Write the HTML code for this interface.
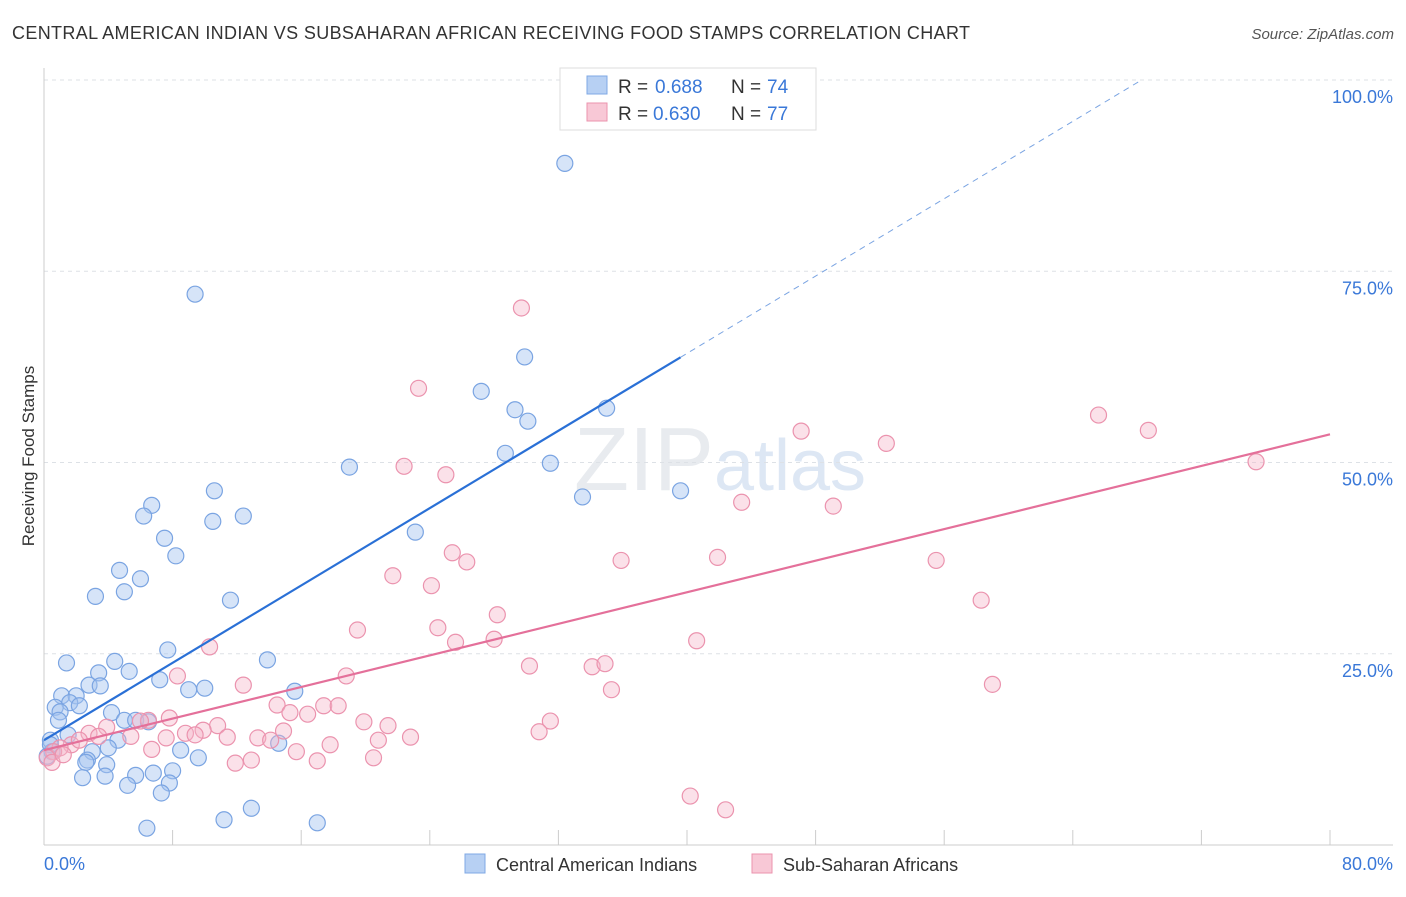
<!DOCTYPE html>
<html><head><meta charset="utf-8">
<style>
body{margin:0;background:#fff;font-family:"Liberation Sans",sans-serif;}
svg text{font-family:"Liberation Sans",sans-serif;}
</style></head>
<body>
<svg id="chart" width="1406" height="892" xmlns="http://www.w3.org/2000/svg">
<text x="12" y="39" font-size="18" fill="#333" textLength="958" lengthAdjust="spacing">CENTRAL AMERICAN INDIAN VS SUBSAHARAN AFRICAN RECEIVING FOOD STAMPS CORRELATION CHART</text>
<text x="1394" y="39" font-size="15" fill="#555" text-anchor="end" font-style="italic">Source: ZipAtlas.com</text>
<text transform="translate(34,456) rotate(-90)" font-size="17" fill="#333" text-anchor="middle">Receiving Food Stamps</text>
<text x="720" y="490" font-size="90" fill="#e8ebef" text-anchor="middle" font-family="Liberation Serif">ZIP<tspan fill="#dde7f4" font-family="Liberation Sans" font-size="72">atlas</tspan></text>
<g id="grid"></g><g id="axes"></g><g id="pts"></g><g id="lines"></g>
<g>
<rect x="560" y="68" width="256" height="62" fill="#fff" stroke="#ddd"/>
<rect x="587" y="76" width="20" height="18" fill="#b7d0f3" stroke="#7fa8e4"/>
<text x="618" y="93" font-size="19" fill="#333">R = </text><text x="655" y="93" font-size="19" fill="#3a78d8">0.688</text>
<text x="731" y="93" font-size="19" fill="#333">N = </text><text x="767" y="93" font-size="19" fill="#3a78d8">74</text>
<rect x="587" y="103" width="20" height="18" fill="#f8c8d6" stroke="#eb93ae"/>
<text x="618" y="120" font-size="19" fill="#333">R = </text><text x="653" y="120" font-size="19" fill="#3a78d8">0.630</text>
<text x="731" y="120" font-size="19" fill="#333">N = </text><text x="767" y="120" font-size="19" fill="#3a78d8">77</text>
</g>
<g>
<rect x="465" y="854" width="20" height="19" fill="#b7d0f3" stroke="#7fa8e4"/>
<text x="496" y="871" font-size="18" fill="#333">Central American Indians</text>
<rect x="752" y="854" width="20" height="19" fill="#f8c8d6" stroke="#eb93ae"/>
<text x="783" y="871" font-size="18" fill="#333">Sub-Saharan Africans</text>
</g>
</svg>
<script>
const xTicks=[0,8,16,24,32,40,48,56,64,72,80];
const yTicks=[25,50,75,100];
const yTickLabels=["25.0%","50.0%","75.0%","100.0%"];
const blueX=[32.4,9.4,29.9,27.2,29.3,30.1,35.0,28.7,19.0,31.5,33.5,39.6,23.1,10.6,6.7,6.2,10.5,12.4,7.5,8.2,4.7,6.0,5.0,3.2,11.6,7.7,13.9,4.4,1.4,3.4,5.3,2.8,3.5,7.2,9.0,10.0,15.6,1.1,2.0,1.6,2.2,0.7,1.0,0.9,4.2,5.0,5.7,6.5,1.5,4.6,4.0,8.5,3.0,0.4,0.5,2.7,2.6,9.6,3.9,5.7,6.8,8.0,3.8,2.4,5.2,7.8,7.3,12.9,11.2,17.0,6.4,14.6,0.4,0.2];
const blueY=[89.1,72.0,63.8,59.3,56.9,55.4,57.1,51.2,49.4,49.9,45.5,46.3,40.9,46.3,44.4,43.0,42.3,43.0,40.1,37.8,35.9,34.8,33.1,32.5,32.0,25.5,24.2,24.0,23.8,22.5,22.7,20.9,20.8,21.6,20.3,20.5,20.1,19.5,19.5,18.6,18.2,18.0,17.4,16.3,17.3,16.3,16.3,16.1,14.4,13.7,12.7,12.4,12.2,13.7,12.2,11.1,10.8,11.4,10.5,9.1,9.4,9.7,9.0,8.8,7.8,8.1,6.8,4.8,3.3,2.9,2.2,13.3,13.1,11.6];
const pinkX=[29.7,23.3,65.6,47.1,68.7,52.4,75.4,22.4,25.0,43.4,49.1,25.4,41.9,35.9,26.3,55.5,21.7,24.1,58.3,28.2,19.5,24.5,25.6,28.0,40.6,10.3,30.2,34.1,34.9,59.0,35.3,18.8,8.3,12.4,14.5,15.3,16.4,17.4,18.3,7.8,6.5,6.0,19.9,21.4,31.5,30.8,10.8,9.9,8.8,9.4,14.9,3.9,2.8,3.4,5.4,11.4,7.6,22.8,20.8,13.3,14.1,17.8,6.7,1.7,15.7,12.9,11.9,17.0,20.5,1.0,0.6,0.2,0.5,1.2,40.2,42.4,2.2];
const pinkY=[70.2,59.7,56.2,54.1,54.2,52.5,50.1,49.5,48.4,44.8,44.3,38.2,37.6,37.2,37.0,37.2,35.2,33.9,32.0,30.1,28.1,28.4,26.5,26.9,26.7,25.9,23.4,23.3,23.7,21.0,20.3,22.1,22.1,20.9,18.3,17.3,17.1,18.2,18.2,16.6,16.3,16.2,16.1,15.6,16.2,14.8,15.6,15.0,14.6,14.4,14.9,15.4,14.6,14.2,14.2,14.1,14.0,14.1,13.7,14.0,13.7,13.1,12.5,13.1,12.2,11.1,10.7,11.0,11.4,12.7,12.2,11.4,10.8,11.8,6.4,4.6,13.7];
const blueTrend=[13.7,1.264];
const pinkTrend=[12.4,0.516];
const X=v=>44+v/80*1286, Y=v=>845-v/100*765;
const NS="http://www.w3.org/2000/svg";
function mk(parent,tag,attrs){const e=document.createElementNS(NS,tag);for(const k in attrs)e.setAttribute(k,attrs[k]);document.getElementById(parent).appendChild(e);return e;}
yTicks.forEach((t,i)=>{
 const g=mk('grid','line',{x1:44,x2:1393,y1:Y(t),y2:Y(t),stroke:'#dde1e6','stroke-dasharray':'4,4'});
 
 
 const l=mk('axes','text',{x:1393,y:Y(t)+23,'font-size':18,fill:'#3a78d8','text-anchor':'end'});
 l.textContent=yTickLabels[i];
 
 
});
const ax=mk('axes','line',{x1:44,x2:1393,y1:845,y2:845,stroke:'#ccc'});


const ay=mk('axes','line',{x1:44,x2:44,y1:68,y2:845,stroke:'#ccc'});


xTicks.forEach(t=>{const e=mk('axes','line',{x1:X(t),x2:X(t),y1:830,y2:845,stroke:'#ccc'});
 
 });
const xl0=mk('axes','text',{x:44,y:870,'font-size':18,fill:'#3a78d8'});xl0.textContent='0.0%';


const xl1=mk('axes','text',{x:1393,y:870,'font-size':18,fill:'#3a78d8','text-anchor':'end'});xl1.textContent='80.0%';


blueX.forEach((v,i)=>{const c=mk('pts','circle',{cx:X(v),cy:Y(blueY[i]),r:8,fill:'rgba(164,196,240,0.45)',stroke:'#7aa4e2','stroke-width':1.2});
 
 });
pinkX.forEach((v,i)=>{const c=mk('pts','circle',{cx:X(v),cy:Y(pinkY[i]),r:8,fill:'rgba(246,180,200,0.4)',stroke:'#eb93ae','stroke-width':1.2});
 
 });
const bMax=Math.max(...blueX), bEnd=(100-blueTrend[0])/blueTrend[1];
const b1=mk('lines','line',{x1:X(0),y1:Y(blueTrend[0]),x2:X(bMax),y2:Y(blueTrend[0]+blueTrend[1]*bMax),stroke:'#2a70d6','stroke-width':2.2});


const b2=mk('lines','line',{x1:X(bMax),y1:Y(blueTrend[0]+blueTrend[1]*bMax),x2:X(bEnd),y2:Y(100),stroke:'#7aa4e2','stroke-width':1,'stroke-dasharray':'6,5'});


const p1=mk('lines','line',{x1:X(0),y1:Y(pinkTrend[0]),x2:X(80),y2:Y(pinkTrend[0]+pinkTrend[1]*80),stroke:'#e4709a','stroke-width':2.2});


</script>
</body></html>
